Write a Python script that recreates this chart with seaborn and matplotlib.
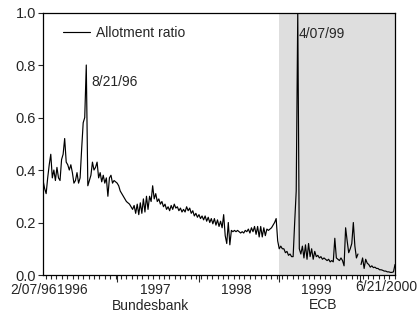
import numpy as np
import pandas as pd
import matplotlib
matplotlib.use('Agg')
import matplotlib.pyplot as plt
import matplotlib.transforms as mtransforms
from matplotlib.ticker import MultipleLocator
import seaborn as sns

# Allotment ratio, weekly tenders (Wednesdays), grouped by calendar year
ratio_1996 = [0.36, 0.33, 0.31, 0.37, 0.42, 0.46, 0.37, 0.40, 0.36, 0.41,
              0.37, 0.36, 0.44, 0.46, 0.52, 0.43, 0.42, 0.40, 0.42, 0.39,
              0.35, 0.36, 0.39, 0.35, 0.37, 0.48, 0.58, 0.60, 0.80, 0.34,
              0.36, 0.38, 0.43, 0.40, 0.41, 0.43, 0.37, 0.39, 0.355, 0.38,
              0.35, 0.37, 0.30, 0.37, 0.38, 0.35, 0.36]
ratio_1997 = [0.355, 0.35, 0.34, 0.32, 0.31, 0.30, 0.29, 0.28, 0.275, 0.27,
              0.26, 0.25, 0.265, 0.235, 0.27, 0.23, 0.275, 0.235, 0.29, 0.24,
              0.30, 0.25, 0.30, 0.28, 0.34, 0.29, 0.31, 0.28, 0.29, 0.27,
              0.28, 0.26, 0.27, 0.25, 0.26, 0.245, 0.265, 0.25, 0.27, 0.255,
              0.26, 0.245, 0.255, 0.24, 0.25, 0.24, 0.26, 0.245, 0.255, 0.235,
              0.245, 0.225]
ratio_1998 = [0.235, 0.22, 0.23, 0.215, 0.225, 0.21, 0.225, 0.205, 0.22, 0.20,
              0.215, 0.195, 0.215, 0.19, 0.21, 0.185, 0.205, 0.18, 0.23, 0.15,
              0.12, 0.20, 0.115, 0.17, 0.165, 0.17, 0.165, 0.17, 0.165, 0.16,
              0.165, 0.16, 0.17, 0.165, 0.175, 0.16, 0.18, 0.165, 0.185, 0.155,
              0.185, 0.145, 0.185, 0.145, 0.18, 0.15, 0.175, 0.17, 0.175, 0.18,
              0.19, 0.20, 0.215]
ratio_1999 = [0.13, 0.10, 0.11, 0.10, 0.10, 0.085, 0.09, 0.075, 0.08, 0.07,
              0.07, 0.20, 0.32, 1.00, 0.10, 0.08, 0.11, 0.065, 0.115, 0.06,
              0.12, 0.07, 0.10, 0.06, 0.09, 0.07, 0.075, 0.065, 0.07, 0.06,
              0.065, 0.06, 0.055, 0.06, 0.05, 0.055, 0.05, 0.14, 0.065, 0.06,
              0.055, 0.065, 0.055, 0.035, 0.18, 0.13, 0.085, 0.10, 0.12, 0.20,
              0.11, 0.065]
ratio_2000 = [0.08, None, 0.04, 0.065, 0.025, 0.06, 0.045, 0.04, 0.03, 0.035,
              0.028, 0.03, 0.025, 0.025, 0.02, 0.02, 0.018, 0.015, 0.015, 0.012,
              0.012, 0.01, 0.01, 0.012, 0.04]

first_date = '1996-02-07'
last_date = '2000-06-21'
ecb_start = '1999-01-12'
year_ticks = ['1997-01-08', '1998-01-14', '1999-01-13', '2000-01-12']
year_labels = ['1996', '1997', '1998', '1999']
year_label_pos = ['1996-06-20', '1997-07-02', '1998-07-02', '1999-07-02']
peaks = [('1996-08-21', '8/21/96'), ('1999-04-07', '4/07/99')]

ratio = ratio_1996 + ratio_1997 + ratio_1998 + ratio_1999 + ratio_2000
df = pd.DataFrame({
    'date': pd.date_range(first_date, last_date, freq='7D'),
    'ratio': pd.Series(ratio, dtype=float),
})
df['segment'] = df['ratio'].isna().cumsum()
df = df.dropna()

sns.set_style('ticks')
plt.rcParams['font.family'] = ['Liberation Sans', 'DejaVu Sans']
plt.rcParams['font.size'] = 10

fig = plt.figure(figsize=(4.18, 3.16), dpi=100)
ax = fig.add_axes([0.103, 0.1297, 0.842, 0.8307])

# ECB period shaded
ax.axvspan(pd.Timestamp(ecb_start), pd.Timestamp(last_date), color='#dedede', lw=0, zorder=0)

sns.lineplot(data=df, x='date', y='ratio', units='segment', estimator=None,
             color='black', linewidth=0.85, ax=ax, zorder=3)

ax.set_xlim(pd.Timestamp(first_date), pd.Timestamp(last_date))
ax.set_ylim(0, 1.0)
ax.set_yticks([0.0, 0.2, 0.4, 0.6, 0.8, 1.0])
ax.set_yticklabels(['0.0', '0.2', '0.4', '0.6', '0.8', '1.0'])
ax.set_xlabel('')
ax.set_ylabel('')

ax.set_xticks([pd.Timestamp(d) for d in year_ticks])
ax.set_xticklabels([''] * len(year_ticks))
ax.xaxis.set_minor_locator(MultipleLocator(24.35))
ax.tick_params(axis='x', which='major', direction='out', length=5, width=0.8)
ax.tick_params(axis='x', which='minor', direction='out', length=3, width=0.8)
ax.tick_params(axis='y', direction='out', length=3.5, width=0.8, labelsize=10.5, pad=1.5)

for s in ax.spines.values():
    s.set_visible(True)
    s.set_color('black')
    s.set_linewidth(0.9)

# x labels under the axis
trans = mtransforms.blended_transform_factory(ax.transData, ax.transAxes)
for lab, pos in zip(year_labels, year_label_pos):
    ax.text(pd.Timestamp(pos), -0.057, lab, transform=trans, ha='center', va='center', fontsize=10)
ax.text(-0.026, -0.057, '2/07/96', transform=ax.transAxes, ha='center', va='center', fontsize=10)
ax.text(0.974, -0.046, '6/21/2000', transform=ax.transAxes, ha='center', va='center', fontsize=10)
ax.text(0.304, -0.117, 'Bundesbank', transform=ax.transAxes, ha='center', va='center', fontsize=10)
ax.text(0.795, -0.113, 'ECB', transform=ax.transAxes, ha='center', va='center', fontsize=10)

# peak annotations
ax.annotate(peaks[0][1], xy=(pd.Timestamp(peaks[0][0]), 0.735), xytext=(4, 0),
            textcoords='offset points', ha='left', va='center', fontsize=10)
ax.annotate(peaks[1][1], xy=(pd.Timestamp(peaks[1][0]), 0.92), xytext=(0.5, 0),
            textcoords='offset points', ha='left', va='center', fontsize=10)

ax.legend(handles=[ax.lines[0]], labels=['Allotment ratio'], loc='center left',
          bbox_to_anchor=(0.057, 0.922), frameon=False, borderpad=0, borderaxespad=0,
          handlelength=1.95, handletextpad=0.4, fontsize=10)

fig.savefig('out.png', dpi=100)
